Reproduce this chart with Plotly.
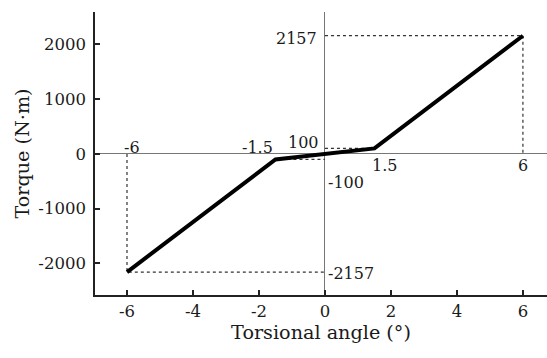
import plotly.graph_objects as go

# data
angle = [-6, -1.5, 1.5, 6]
torque = [-2157, -100, 100, 2157]

# dotted guide lines (None separates segments)
guide_x = [0, 6, 6, None, -6, -6, 0, None, 0, 1.5, None, -1.5, 0]
guide_y = [2157, 2157, 0, None, 0, -2157, -2157, None, 100, 100, None, -100, -100]

x_ticks = [-6, -4, -2, 0, 2, 4, 6]
y_ticks = [-2000, -1000, 0, 1000, 2000]

# labels: text, x, y, xanchor, yanchor, xshift, yshift
labels = [
    ("-6", -6, 0, "center", "bottom", 5, -5),
    ("-1.5", -1.5, 0, "right", "bottom", 0, -5),
    ("100", 0, 100, "right", "bottom", -4, -6),
    ("-100", 0, -100, "left", "top", 1, -12),
    ("1.5", 1.5, 0, "center", "top", 10, 0),
    ("6", 6, 0, "center", "top", 0, 0),
    ("2157", 0, 2157, "right", "middle", -6, -3),
    ("-2157", 0, -2157, "left", "middle", 1, -1),
]

FONT = "DejaVu Serif"

fig = go.Figure()
fig.add_trace(go.Scatter(x=guide_x, y=guide_y, mode="lines",
                         line=dict(color="#333333", width=1.2, dash="dot"),
                         hoverinfo="skip", showlegend=False))
fig.add_trace(go.Scatter(x=angle, y=torque, mode="lines",
                         line=dict(color="black", width=4),
                         showlegend=False))

for t, x, y, xa, ya, xs, ys in labels:
    fig.add_annotation(x=x, y=y, text=t, showarrow=False, xanchor=xa, yanchor=ya,
                       xshift=xs, yshift=ys,
                       font=dict(family=FONT, size=16, color="#1a1a1a"))

fig.update_layout(
    width=547, height=358,
    margin=dict(l=95, r=0, t=12, b=63),
    plot_bgcolor="white", paper_bgcolor="white",
    font=dict(family=FONT, size=16.5, color="#1a1a1a"),
)
fig.update_xaxes(
    range=[-6.97, 6.73], tickvals=x_ticks, ticktext=[str(v) for v in x_ticks],
    showgrid=False, zeroline=True, zerolinecolor="#777777", zerolinewidth=1.2,
    showline=True, linecolor="#222222", linewidth=1.5,
    ticks="inside", ticklen=5, tickwidth=1.5, tickcolor="#222222",
    title=dict(text="Torsional angle (°)", font=dict(family=FONT, size=19.2), standoff=5),
)
fig.update_yaxes(
    range=[-2575, 2590], tickvals=y_ticks, ticktext=[str(v) for v in y_ticks],
    showgrid=False, zeroline=True, zerolinecolor="#777777", zerolinewidth=1.2,
    showline=True, linecolor="#222222", linewidth=1.5,
    ticks="inside", ticklen=5, tickwidth=1.5, tickcolor="#222222",
    ticklabelstandoff=4,
    title=dict(text="Torque (N·m)", font=dict(family=FONT, size=19.2), standoff=4),
)

fig.write_html("out.html")
